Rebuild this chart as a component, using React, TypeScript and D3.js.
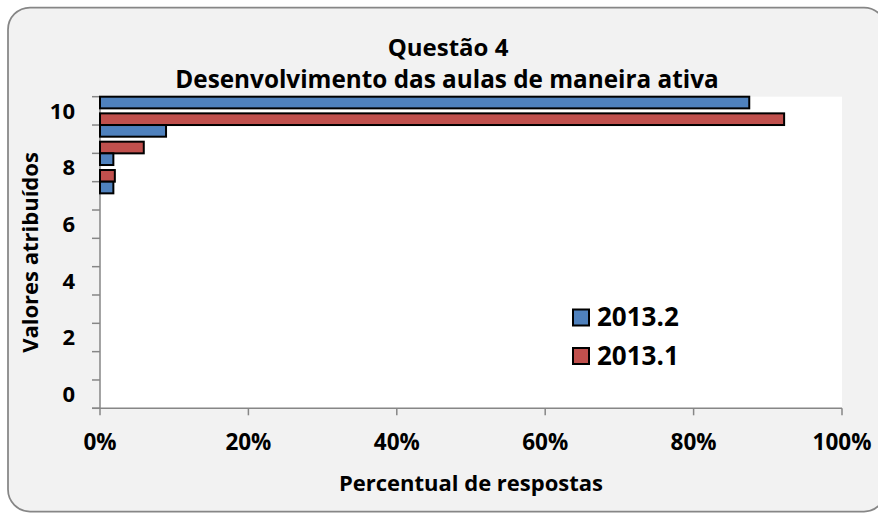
import React, { useRef, useEffect } from 'react';
import * as d3 from 'd3';

const categories = ['10', '9', '8', '7', '6', '5', '4', '3', '2', '1', '0'];
const tickLabels = ['10', '8', '6', '4', '2', '0'];
const series = ['2013.2', '2013.1'];
const values20132 = [87.5, 8.9, 1.8, 1.8, 0, 0, 0, 0, 0, 0, 0];
const values20131 = [92.2, 5.9, 2.0, 0, 0, 0, 0, 0, 0, 0, 0];
const xTicks = [0, 20, 40, 60, 80, 100];
const colors = ['#4f81bd', '#c0504d'];

const FONT = '"Open Sans", Lato, sans-serif';

const App = () => {
  const ref = useRef(null);

  useEffect(() => {
    const svg = d3.select(ref.current);
    svg.selectAll('*').remove();

    const width = 878;
    const height = 513;
    const margin = { top: 96.7, right: 36, bottom: 104.7, left: 100 };

    svg.append('rect')
      .attr('width', width).attr('height', height).attr('fill', '#ffffff');

    svg.append('rect')
      .attr('x', 8).attr('y', 7.5)
      .attr('width', 878).attr('height', 504)
      .attr('rx', 22)
      .attr('fill', '#f2f2f2')
      .attr('stroke', '#868686')
      .attr('stroke-width', 1.75);

    const x = d3.scaleLinear()
      .domain([0, 100])
      .range([margin.left, width - margin.right]);

    const y = d3.scaleBand()
      .domain(categories)
      .range([margin.top, height - margin.bottom])
      .padding(0);

    const ys = d3.scaleBand()
      .domain(series)
      .range([0, y.bandwidth()])
      .paddingInner(0.3)
      .paddingOuter(0);

    svg.append('rect')
      .attr('x', x(0)).attr('y', margin.top)
      .attr('width', x(100) - x(0))
      .attr('height', height - margin.bottom - margin.top)
      .attr('fill', '#ffffff');

    // y axis: ticks on band boundaries, labels on even categories
    const yAxis = svg.append('g');
    yAxis.append('line')
      .attr('x1', x(0)).attr('x2', x(0))
      .attr('y1', margin.top).attr('y2', height - margin.bottom)
      .attr('stroke', '#868686').attr('stroke-width', 1.5);
    const bounds = categories.map(c => y(c)).concat([height - margin.bottom]);
    yAxis.selectAll('line.tick')
      .data(bounds)
      .enter()
      .append('line')
      .attr('class', 'tick')
      .attr('x1', x(0) - 8).attr('x2', x(0))
      .attr('y1', d => d).attr('y2', d => d)
      .attr('stroke', '#868686').attr('stroke-width', 1.5);
    yAxis.selectAll('text')
      .data(tickLabels)
      .enter()
      .append('text')
      .attr('x', 75)
      .attr('y', d => y(d) + y.bandwidth() / 2)
      .attr('dy', '0.36em')
      .attr('text-anchor', 'end')
      .attr('font-family', FONT)
      .attr('font-weight', 'bold')
      .attr('font-size', 22)
      .text(d => d);

    // x axis
    const xAxis = svg.append('g');
    xAxis.append('line')
      .attr('x1', x(0) - 8).attr('x2', x(100))
      .attr('y1', height - margin.bottom).attr('y2', height - margin.bottom)
      .attr('stroke', '#868686').attr('stroke-width', 1.5);
    xAxis.selectAll('line.tick')
      .data(xTicks)
      .enter()
      .append('line')
      .attr('class', 'tick')
      .attr('x1', d => x(d)).attr('x2', d => x(d))
      .attr('y1', height - margin.bottom).attr('y2', height - margin.bottom + 7)
      .attr('stroke', '#868686').attr('stroke-width', 1.5);
    xAxis.selectAll('text')
      .data(xTicks)
      .enter()
      .append('text')
      .attr('x', d => x(d))
      .attr('y', 450)
      .attr('text-anchor', 'middle')
      .attr('font-family', FONT)
      .attr('font-weight', 'bold')
      .attr('font-size', 22.5)
      .text(d => `${d}%`);

    // bars
    const rows = categories.map((c, i) => ({ c, v: [values20132[i], values20131[i]] }));
    svg.append('g')
      .selectAll('g')
      .data(rows)
      .enter()
      .append('g')
      .selectAll('rect')
      .data(r => series.map((s, j) => ({ c: r.c, s, v: r.v[j], j })))
      .enter()
      .filter(d => d.v > 0)
      .append('rect')
      .attr('x', x(0))
      .attr('y', d => y(d.c) + ys(d.s))
      .attr('width', d => x(d.v) - x(0))
      .attr('height', ys.bandwidth())
      .attr('fill', d => colors[d.j])
      .attr('stroke', '#000000')
      .attr('stroke-width', 2);

    // titles
    svg.append('text')
      .attr('x', 448).attr('y', 56)
      .attr('text-anchor', 'middle')
      .attr('font-family', FONT).attr('font-weight', 'bold').attr('font-size', 24)
      .text('Questão 4');
    svg.append('text')
      .attr('x', 447).attr('y', 87.5)
      .attr('text-anchor', 'middle')
      .attr('font-family', FONT).attr('font-weight', 'bold').attr('font-size', 24.3)
      .text('Desenvolvimento das aulas de maneira ativa');

    svg.append('text')
      .attr('x', (x(0) + x(100)) / 2).attr('y', 490.5)
      .attr('text-anchor', 'middle')
      .attr('font-family', FONT).attr('font-weight', 'bold').attr('font-size', 22)
      .text('Percentual de respostas');

    svg.append('text')
      .attr('transform', `translate(38,${(margin.top + height - margin.bottom) / 2}) rotate(-90)`)
      .attr('text-anchor', 'middle')
      .attr('font-family', FONT).attr('font-weight', 'bold').attr('font-size', 22)
      .text('Valores atribuídos');

    // legend
    const legend = svg.append('g')
      .selectAll('g')
      .data(series)
      .enter()
      .append('g')
      .attr('transform', (d, i) => `translate(573,${309.5 + i * 38.5})`);
    legend.append('rect')
      .attr('width', 16).attr('height', 16)
      .attr('fill', (d, i) => colors[i])
      .attr('stroke', '#000000')
      .attr('stroke-width', 2);
    legend.append('text')
      .attr('x', 24).attr('y', 16.5)
      .attr('font-family', FONT).attr('font-weight', 'bold').attr('font-size', 26)
      .text(d => d);
  }, []);

  return (
    <svg
      ref={ref}
      width={878}
      height={513}
      style={{ position: 'absolute', left: 0, top: 0, display: 'block' }}
    />
  );
};

export default App;
